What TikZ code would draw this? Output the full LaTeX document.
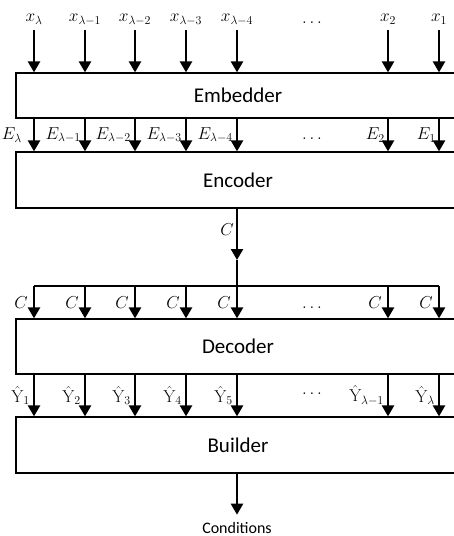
\documentclass[tikz,border=0pt]{standalone}
\usepackage{amsmath}
\usepackage[no-math]{fontspec}
\setmainfont{Carlito}
\usepackage{tikz}
\usetikzlibrary{arrows.meta, positioning}

\begin{document}
\begin{tikzpicture}[x=1pt, y=-1pt,
        block/.style={draw, line width=1.2pt, minimum width=444pt, inner sep=0pt, font=\fontsize{21}{25}\selectfont},
        arr/.style={line width=2.4pt, -{Triangle[width=12pt, length=11pt]}},
        busline/.style={line width=1.2pt},
        lbl/.style={inner sep=1pt, font=\fontsize{18.5}{20}\selectfont}]
                        \path[use as bounding box, clip] (0,0) rectangle (454,536);

                        % blocks
                        \node[block, minimum height=45pt] (emb) at (238,95.5) {Embedder};
                        \node[block, minimum height=56pt] (enc) at (238,180) {Encoder};
                        \node[block, minimum height=55pt] (dec) at (238,346.5) {Decoder};
                        \node[block, minimum height=56pt] (bld) at (238,445) {Builder};

                        % inputs
                        \node[lbl, anchor=south, text depth=6pt, inner sep=2pt] (xl) at (34,30) {$x_\lambda$};
                        \node[lbl, anchor=south, text depth=6pt, inner sep=2pt] (xl1) at (85,30) {$x_{\lambda-1}$};
                        \node[lbl, anchor=south, text depth=6pt, inner sep=2pt] (xl2) at (135,30) {$x_{\lambda-2}$};
                        \node[lbl, anchor=south, text depth=6pt, inner sep=2pt] (xl3) at (186,30) {$x_{\lambda-3}$};
                        \node[lbl, anchor=south, text depth=6pt, inner sep=2pt] (xl4) at (237,30) {$x_{\lambda-4}$};
                        \node[lbl, anchor=south, text depth=6pt, inner sep=2pt] (x2) at (388,30) {$x_2$};
                        \node[lbl, anchor=south, text depth=6pt, inner sep=2pt] (x1) at (439,30) {$x_1$};

                        % dots
                        \node[lbl, anchor=base] (xdots) at (312,23) {$\ldots$};
                        \node[lbl, anchor=base] (edots) at (312,139) {$\ldots$};
                        \node[lbl, anchor=base] (cdots) at (312,308) {$\ldots$};
                        \node[lbl, anchor=base] (ydots) at (312,394) {$\ldots$};

                        \coordinate (ctip) at (237,260);
                        \coordinate (bus) at (237,286);
                        \coordinate (busl) at (34,286);
                        \coordinate (busr) at (439,286);

                        \node[anchor=base, inner ysep=7pt, font=\fontsize{16}{18}\selectfont] (cond) at (237,533) {Conditions};

                        \draw
                        (xl) edge[arr] (xl |- emb.north)
                        (xl1) edge[arr] (xl1 |- emb.north)
                        (xl2) edge[arr] (xl2 |- emb.north)
                        (xl3) edge[arr] (xl3 |- emb.north)
                        (xl4) edge[arr] (xl4 |- emb.north)
                        (x2) edge[arr] (x2 |- emb.north)
                        (x1) edge[arr] (x1 |- emb.north);

                        \draw
                        (xl |- emb.south) edge[arr] node[lbl, left=2pt, xshift=-8pt] {$E_\lambda$} (xl |- enc.north)
                        (xl1 |- emb.south) edge[arr] node[lbl, left=2pt] {$E_{\lambda-1}$} (xl1 |- enc.north)
                        (xl2 |- emb.south) edge[arr] node[lbl, left=2pt] {$E_{\lambda-2}$} (xl2 |- enc.north)
                        (xl3 |- emb.south) edge[arr] node[lbl, left=2pt] {$E_{\lambda-3}$} (xl3 |- enc.north)
                        (xl4 |- emb.south) edge[arr] node[lbl, left=2pt] {$E_{\lambda-4}$} (xl4 |- enc.north)
                        (x2 |- emb.south) edge[arr] node[lbl, left=1pt] {$E_2$} (x2 |- enc.north)
                        (x1 |- emb.south) edge[arr] node[lbl, left=1pt] {$E_1$} (x1 |- enc.north);

                        \draw[arr] (bus |- enc.south) -- node[lbl, left=1pt, pos=0.4] {$C$} (ctip);
                        \draw[busline] (ctip) -- (bus);
                        \draw[busline] (busl) -- (busr);

                        \draw
                        (busl) edge[arr] node[lbl, left=4pt] {$C$} (busl |- dec.north)
                        (xl1 |- bus) edge[arr] node[lbl, left=4pt] {$C$} (xl1 |- dec.north)
                        (xl2 |- bus) edge[arr] node[lbl, left=4pt] {$C$} (xl2 |- dec.north)
                        (xl3 |- bus) edge[arr] node[lbl, left=4pt] {$C$} (xl3 |- dec.north)
                        (bus) edge[arr] node[lbl, left=4pt] {$C$} (bus |- dec.north)
                        (x2 |- bus) edge[arr] node[lbl, left=4pt] {$C$} (x2 |- dec.north)
                        (busr) edge[arr] node[lbl, left=4pt] {$C$} (busr |- dec.north);

                        \draw
                        (xl |- dec.south) edge[arr] node[lbl, left=2pt] {$\hat{\mathrm{Y}}_1$} (xl |- bld.north)
                        (xl1 |- dec.south) edge[arr] node[lbl, left=2pt] {$\hat{\mathrm{Y}}_2$} (xl1 |- bld.north)
                        (xl2 |- dec.south) edge[arr] node[lbl, left=2pt] {$\hat{\mathrm{Y}}_3$} (xl2 |- bld.north)
                        (xl3 |- dec.south) edge[arr] node[lbl, left=2pt] {$\hat{\mathrm{Y}}_4$} (xl3 |- bld.north)
                        (xl4 |- dec.south) edge[arr] node[lbl, left=2pt] {$\hat{\mathrm{Y}}_5$} (xl4 |- bld.north)
                        (x2 |- dec.south) edge[arr] node[lbl, left=2pt] {$\hat{\mathrm{Y}}_{\lambda-1}$} (x2 |- bld.north)
                        (x1 |- dec.south) edge[arr] node[lbl, left=2pt] {$\hat{\mathrm{Y}}_\lambda$} (x1 |- bld.north);

                        \draw[arr] (cond |- bld.south) -- (cond);
                    \end{tikzpicture}
\end{document}
